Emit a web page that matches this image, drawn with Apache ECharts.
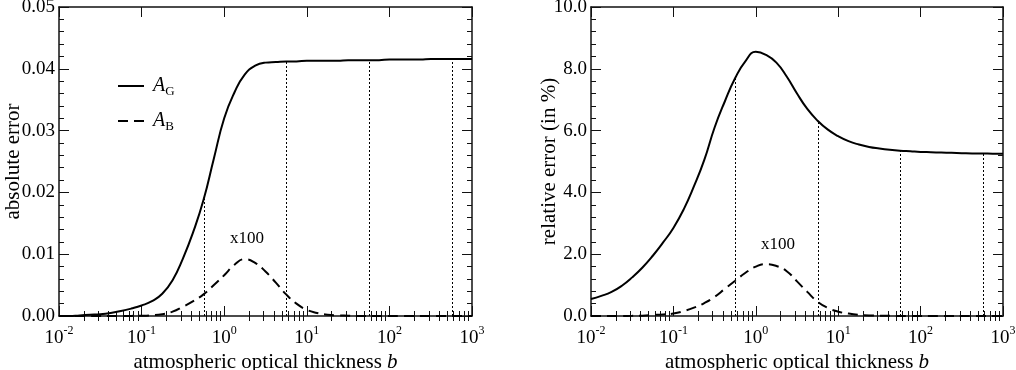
<!DOCTYPE html>
<html>
<head>
<meta charset="utf-8">
<script src="https://cdn.jsdelivr.net/npm/echarts@6/dist/echarts.min.js"></script>
<style>
html, body { margin: 0; padding: 0; background: #fff; }
#main { width: 1016px; height: 370px; }
</style>
</head>
<body>
<div id="main"></div>
<script>
// atmospheric optical thickness b (sample points, 1/8 decade apart)
var thickness = [0.01, 0.01334, 0.01778, 0.02371, 0.03162, 0.04217, 0.05623, 0.07499,
  0.1, 0.1334, 0.1778, 0.2371, 0.3162, 0.4217, 0.5623, 0.7499,
  1, 1.334, 1.778, 2.371, 3.162, 4.217, 5.623, 7.499,
  10, 13.34, 17.78, 23.71, 31.62, 42.17, 56.23, 74.99,
  100, 133.4, 177.8, 237.1, 316.2, 421.7, 562.3, 749.9, 1000]

// absolute error
var absG = [0.0000, 0.0000, 0.0001, 0.0002, 0.0003, 0.0005, 0.0008, 0.0012,
  0.0017, 0.0024, 0.0036, 0.0058, 0.0093, 0.0136, 0.0188, 0.0255,
  0.0320, 0.0362, 0.0391, 0.0405, 0.0410, 0.0411, 0.0412, 0.0412,
  0.0413, 0.0413, 0.0413, 0.0413, 0.0414, 0.0414, 0.0414, 0.0414,
  0.0415, 0.0415, 0.0415, 0.0415, 0.0416, 0.0416, 0.0416, 0.0416, 0.0416]
// A_B shown x100
var absB = [0, 0, 0, 0, 0, 0, 0.00001, 0.00002,
  0.00004, 0.00012, 0.0003, 0.0007, 0.0015, 0.0024, 0.0035, 0.0050,
  0.0066, 0.0083, 0.0092, 0.0086, 0.0072, 0.0054, 0.0035, 0.0020,
  0.0010, 0.0005, 0.0002, 0.0001, 0.00005, 0, 0, 0,
  0, 0, 0, 0, 0, 0, 0, 0, 0]

// relative error (in %)
var relG = [0.55, 0.65, 0.78, 0.98, 1.25, 1.57, 1.95, 2.38,
  2.85, 3.45, 4.20, 5.05, 6.10, 6.95, 7.70, 8.25,
  8.55, 8.45, 8.20, 7.75, 7.20, 6.70, 6.32, 6.03,
  5.82, 5.66, 5.55, 5.47, 5.42, 5.38, 5.35, 5.33,
  5.31, 5.30, 5.29, 5.28, 5.27, 5.26, 5.26, 5.25, 5.25]
var relB = [0, 0, 0, 0.002, 0.005, 0.012, 0.03, 0.05,
  0.08, 0.16, 0.27, 0.42, 0.62, 0.88, 1.14, 1.40,
  1.60, 1.68, 1.62, 1.45, 1.12, 0.78, 0.46, 0.26,
  0.14, 0.08, 0.04, 0.02, 0.01, 0.005, 0, 0,
  0, 0, 0, 0, 0, 0, 0, 0, 0]

// dotted guide lines (b, height)
var guideB = [0.57, 5.7, 57, 570]
var absTops = [0.0190, 0.0412, 0.0414, 0.0416]
var relTops = [7.68, 6.34, 5.35, 5.25]

// "x100" note positions [b, y]
var noteAbs = [1.89, 0.0125]
var noteRel = [1.86, 2.30]

var FONT = 'Liberation Serif'

var chart = echarts.init(document.getElementById('main'))

// minor ticks of the log axis, in decades
var minorLogs = []
for (var n = -2; n < 3; n++) {
  for (var k = 2; k < 10; k++) minorLogs.push(n + Math.log10(k))
}

let pairs = function (ys) {
  return thickness.map(function (b, i) { return [b, ys[i]] })
}

let guides = function (tops) {
  return guideB.map(function (b, i) {
    return [{ coord: [b, 0] }, { coord: [b, tops[i]] }]
  })
}

let logLabel = function (v) {
  var e = Math.round(Math.log10(v))
  return '{b|10}{e|' + e + '}'
}

let xAxes = function (g) {
  var line = { show: true, onZero: false, lineStyle: { color: '#111', width: 1.5 } }
  var major = { show: true, inside: true, length: 10, lineStyle: { color: '#111', width: 1 } }
  var minor = { show: true, inside: true, length: 5, customValues: minorLogs, lineStyle: { color: '#111', width: 1 } }
  return [
    {
      gridIndex: g, type: 'log', logBase: 10, min: 0.01, max: 1000, position: 'bottom',
      axisLine: line, axisTick: major, splitLine: { show: false },
      axisLabel: {
        formatter: logLabel, margin: 9,
        rich: {
          b: { fontFamily: FONT, fontSize: 19, color: '#000', lineHeight: 26 },
          e: { fontFamily: FONT, fontSize: 12, color: '#000', lineHeight: 12, verticalAlign: 'top' }
        }
      },
      name: '{n|atmospheric optical thickness }{i|b}', nameLocation: 'middle', nameGap: 32,
      nameTextStyle: {
        rich: {
          n: { fontFamily: FONT, fontSize: 21, color: '#000' },
          i: { fontFamily: FONT, fontSize: 21, color: '#000', fontStyle: 'italic' }
        }
      }
    },
    {
      gridIndex: g, type: 'value', min: -2, max: 3, position: 'bottom',
      axisLine: { show: false }, axisTick: minor, axisLabel: { show: false }, splitLine: { show: false }
    },
    {
      gridIndex: g, type: 'log', logBase: 10, min: 0.01, max: 1000, position: 'top',
      axisLine: line, axisTick: major, axisLabel: { show: false }, splitLine: { show: false }
    },
    {
      gridIndex: g, type: 'value', min: -2, max: 3, position: 'top',
      axisLine: { show: false }, axisTick: minor, axisLabel: { show: false }, splitLine: { show: false }
    }
  ]
}

let yAxes = function (g, max, interval, digits, name, gap) {
  var line = { show: true, onZero: false, lineStyle: { color: '#111', width: 1.5 } }
  var major = { show: true, inside: true, length: 10, lineStyle: { color: '#111', width: 1 } }
  var minor = { show: true, splitNumber: 5, length: 5, lineStyle: { color: '#111', width: 1 } }
  return [
    {
      gridIndex: g, type: 'value', min: 0, max: max, interval: interval, position: 'left',
      axisLine: line, axisTick: major, minorTick: minor, splitLine: { show: false },
      axisLabel: {
        margin: 4, fontFamily: FONT, fontSize: 19, color: '#000',
        formatter: function (v) { return v.toFixed(digits) }
      },
      name: name, nameLocation: 'middle', nameGap: gap, nameMoveOverlap: false,
      nameTextStyle: { fontFamily: FONT, fontSize: 21, color: '#000' }
    },
    {
      gridIndex: g, type: 'value', min: 0, max: max, interval: interval, position: 'right',
      axisLine: line, axisTick: major, minorTick: minor, splitLine: { show: false },
      axisLabel: { show: false }
    }
  ]
}

let curve = function (name, g, ys, dashed, tops) {
  var s = {
    name: name, type: 'line', xAxisIndex: g * 4, yAxisIndex: g * 2,
    data: pairs(ys), symbol: 'none', smooth: 0.5,
    lineStyle: { color: '#000', width: 2, type: dashed ? [10, 6] : 'solid' },
    itemStyle: { color: '#000' },
    z: 3
  }
  if (tops) {
    s.markLine = {
      silent: true, symbol: ['none', 'none'], label: { show: false },
      lineStyle: { color: '#000', width: 1, type: [2, 2] },
      data: guides(tops)
    }
  }
  return s
}

var option = {
  animation: false,
  backgroundColor: '#fff',
  grid: [
    { left: 59, top: 7, width: 413, height: 309, outerBoundsMode: 'none' },
    { left: 591, top: 7, width: 412, height: 309, outerBoundsMode: 'none' }
  ],
  legend: {
    left: 117, top: 76, orient: 'vertical', padding: 0,
    itemWidth: 26, itemHeight: 14, itemGap: 13,
    itemStyle: { color: 'rgba(0,0,0,0)', borderWidth: 0, opacity: 0 },
    data: ['AG', 'AB'],
    formatter: function (n) { return n === 'AG' ? '{a|A}{s|G}' : '{a|A}{s|B}' },
    textStyle: {
      rich: {
        a: { fontFamily: FONT, fontSize: 20, fontStyle: 'italic', color: '#000', lineHeight: 24, padding: [0, 0, 0, 4] },
        s: { fontFamily: FONT, fontSize: 13, color: '#000', lineHeight: 13, verticalAlign: 'bottom' }
      }
    }
  },
  xAxis: xAxes(0).concat(xAxes(1)),
  yAxis: yAxes(0, 0.05, 0.01, 2, 'absolute error', 35).concat(yAxes(1, 10, 2, 1, 'relative error (in %)', 31)),
  series: [
    curve('AG', 0, absG, false, absTops),
    curve('AB', 0, absB, true),
    curve('AG', 1, relG, false, relTops),
    curve('AB', 1, relB, true)
  ]
}

chart.setOption(option)

// "x100" notes placed through the axes
var pL = chart.convertToPixel({ xAxisIndex: 0, yAxisIndex: 0 }, noteAbs)
var pR = chart.convertToPixel({ xAxisIndex: 4, yAxisIndex: 2 }, noteRel)
let note = function (p) {
  return {
    type: 'text', x: p[0], y: p[1],
    style: { text: 'x100', fontFamily: FONT, fontSize: 17, fill: '#000', align: 'center', verticalAlign: 'middle' }
  }
}
chart.setOption({ graphic: [note(pL), note(pR)] })
</script>
</body>
</html>
